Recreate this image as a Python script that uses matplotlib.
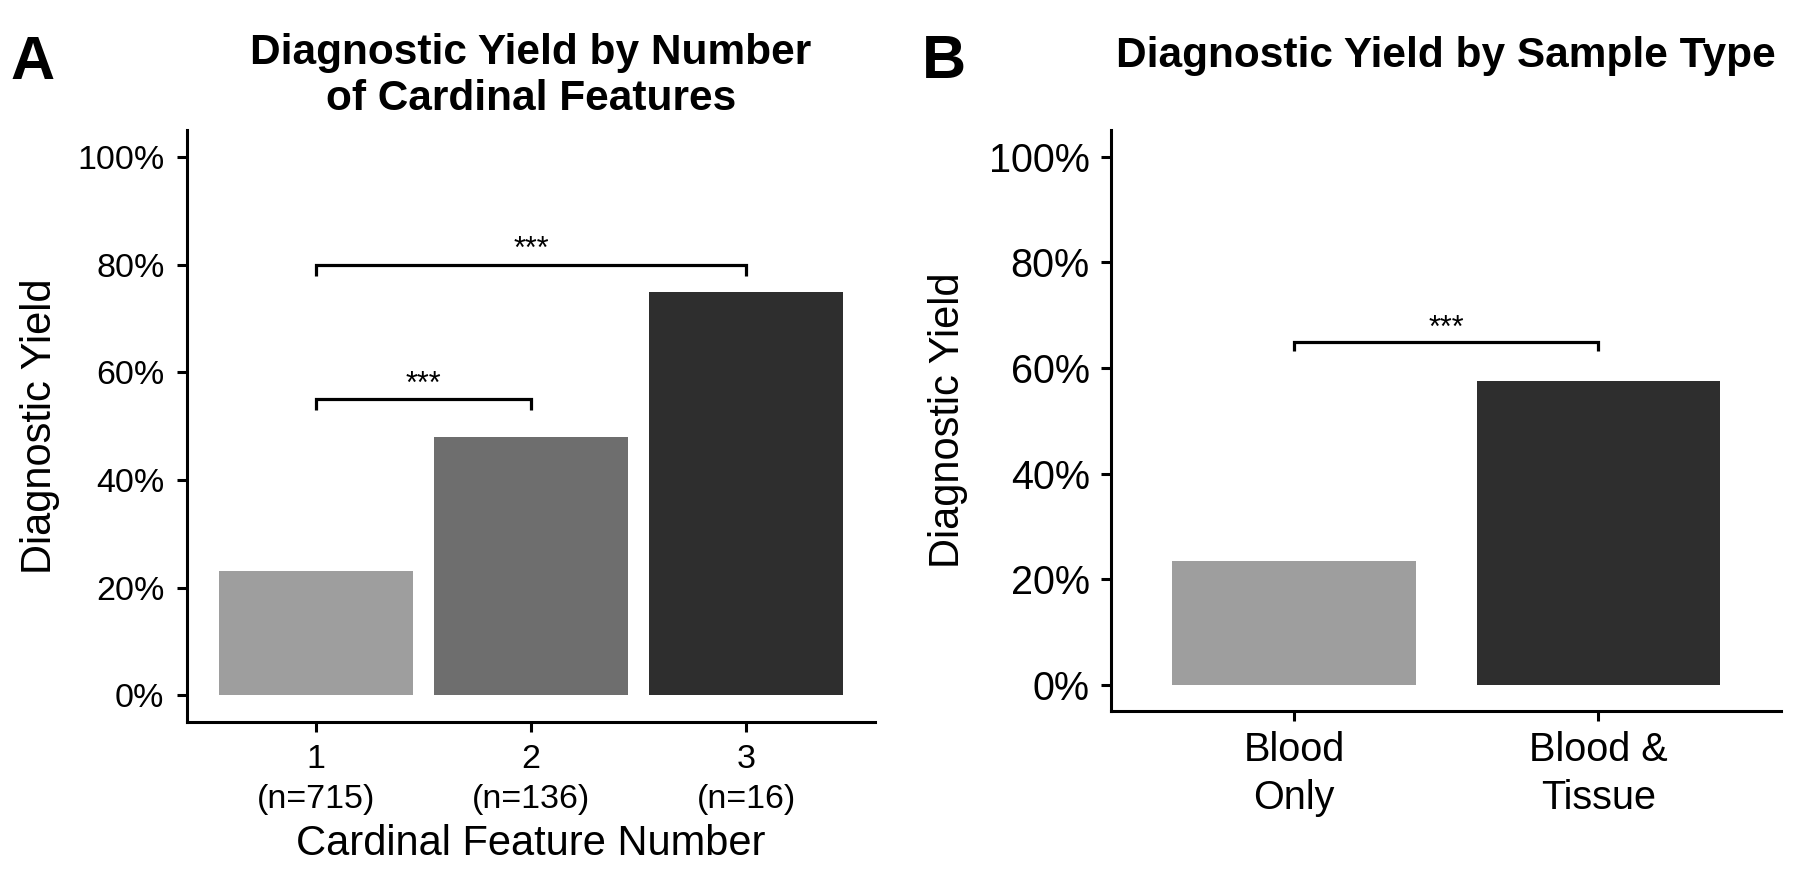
import matplotlib
matplotlib.use("Agg")
import matplotlib.pyplot as plt
import matplotlib.ticker as mticker

plt.rcParams['font.family'] = ['Liberation Sans', 'DejaVu Sans']

# ---------------- data ----------------
a_positions = [1, 2, 3]
a_ticklabels = ["1\n(n=715)", "2\n(n=136)", "3\n(n=16)"]
a_values = [0.23, 0.48, 0.75]
a_colors = ["#9E9E9E", "#6E6E6E", "#2E2E2E"]
a_brackets = [(1, 3, 0.80, "***"), (1, 2, 0.55, "***")]

b_positions = [1, 2]
b_ticklabels = ["Blood\nOnly", "Blood &\nTissue"]
b_values = [0.235, 0.575]
b_colors = ["#9E9E9E", "#2E2E2E"]
b_brackets = [(1, 2, 0.65, "***")]

yticks = [0, 0.2, 0.4, 0.6, 0.8, 1.0]

W, H = 1800, 871
fig = plt.figure(figsize=(18, 8.71), dpi=100)

def fx(px):
    return px / W

def fy(py):
    return 1 - py / H

axA = fig.add_axes([fx(186.6), fy(722), fx(875.4) - fx(186.6), fy(130.5) - fy(722)])
axB = fig.add_axes([fx(1111.3), fy(711), fx(1781) - fx(1111.3), fy(130.5) - fy(711)])

def style(ax, tick_fs, xlim, pad_x, pad_y, ls):
    for s in ["top", "right"]:
        ax.spines[s].set_visible(False)
    for s in ["left", "bottom"]:
        ax.spines[s].set_linewidth(2.2)
        ax.spines[s].set_color("black")
    ax.set_ylim(-0.05, 1.05)
    ax.set_xlim(*xlim)
    ax.set_yticks(yticks)
    ax.yaxis.set_major_formatter(mticker.FuncFormatter(lambda v, p: f"{v*100:.0f}%"))
    ax.tick_params(axis="both", length=7.5, width=2.2, color="black",
                   labelsize=tick_fs, labelcolor="black")
    ax.tick_params(axis="x", pad=pad_x)
    ax.tick_params(axis="y", pad=pad_y)
    for lab in ax.get_xticklabels():
        lab.set_linespacing(ls)

def bracket(ax, x1, x2, y, label, drop, star_off):
    ax.plot([x1, x1, x2, x2], [y - drop, y, y, y - drop], color="black",
            lw=2.3, solid_capstyle="butt", solid_joinstyle="miter")
    ax.annotate(label, xy=((x1 + x2) / 2, y), xytext=(0, star_off),
                textcoords="offset points", ha="center", va="baseline",
                fontsize=22, color="black")

# ---------------- panel A ----------------
axA.bar(a_positions, a_values, width=0.9, color=a_colors)
axA.set_xticks(a_positions)
axA.set_xticklabels(a_ticklabels)
style(axA, 24.5, (0.4, 3.6), 8, 8.5, 1.4)
for x1, x2, y, lab in a_brackets:
    bracket(axA, x1, x2, y, lab, 0.02, 4.7)
axA.set_ylabel("Diagnostic Yield", fontsize=30)
axA.yaxis.label.set_va("center")
axA.yaxis.set_label_coords((40 - 186.6) / (875.4 - 186.6), 0.5)
axA.set_xlabel("Cardinal Feature Number", fontsize=30)
axA.xaxis.label.set_va("baseline")
axA.xaxis.set_label_coords(0.5, (722 - 855) / (722 - 130.5))

# ---------------- panel B ----------------
axB.bar(b_positions, b_values, width=0.8, color=b_colors)
axB.set_xticks(b_positions)
axB.set_xticklabels(b_ticklabels)
style(axB, 28.5, (0.4, 2.6), 7, 8, 1.34)
for x1, x2, y, lab in b_brackets:
    bracket(axB, x1, x2, y, lab, 0.018, 3.5)
axB.set_ylabel("Diagnostic Yield", fontsize=30)
axB.yaxis.label.set_va("center")
axB.yaxis.set_label_coords((948 - 1111.3) / (1781 - 1111.3), 0.5)

# ---------------- titles & panel letters ----------------
fig.text(fx(531), fy(110), "Diagnostic Yield by Number\nof Cardinal Features",
         ha="center", va="baseline", fontsize=30.5, fontweight="bold",
         linespacing=1.2, multialignment="center")
fig.text(fx(1446), fy(67), "Diagnostic Yield by Sample Type",
         ha="center", va="baseline", fontsize=30.5, fontweight="bold")
fig.text(fx(10), fy(79), "A", ha="left", va="baseline", fontsize=44, fontweight="bold")
fig.text(fx(922), fy(78), "B", ha="left", va="baseline", fontsize=44, fontweight="bold")

fig.savefig("out.png", dpi=100)
